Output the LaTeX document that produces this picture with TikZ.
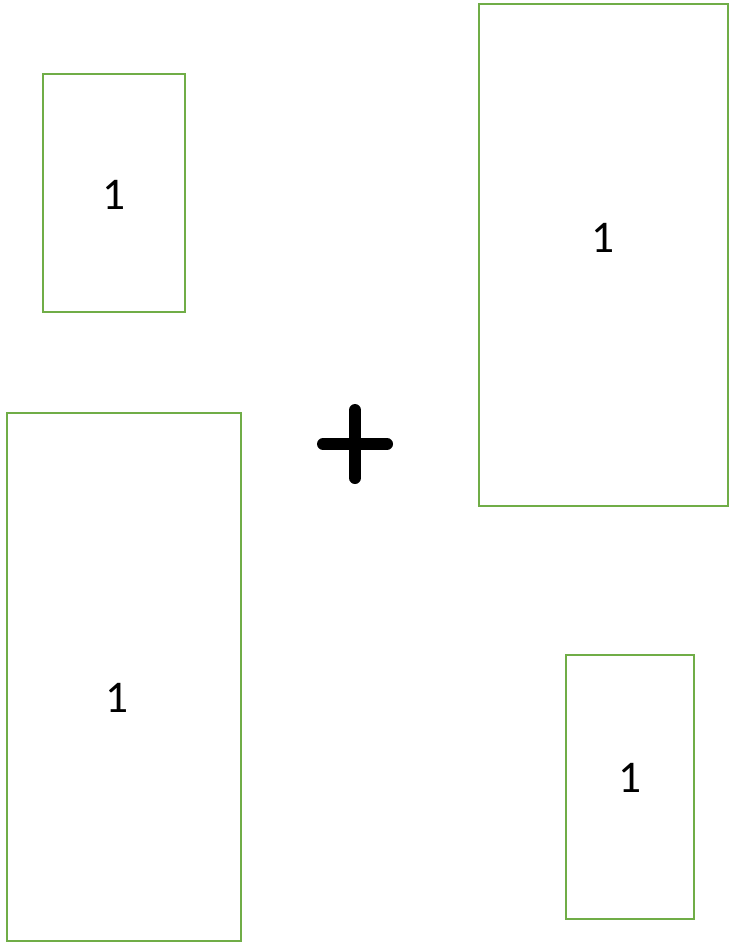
\documentclass[tikz,border=0pt]{standalone}
\usepackage{fontspec}
\setmainfont{Carlito}
\usetikzlibrary{calc}
\definecolor{boxgreen}{HTML}{70AD47}

\begin{document}
\begin{tikzpicture}[
  x=0.75pt, y=-0.75pt,
  box/.style={draw=boxgreen, line width=1.8pt, inner sep=0pt, outer sep=0pt, anchor=north west},
  num/.style={font=\fontsize{34}{40}\selectfont, inner sep=0pt},
  plusbar/.style={line width=9pt, line cap=round}
]
\useasboundingbox (0,0) rectangle (729,943);

% the four boxes
\node[box, minimum width=106.5pt, minimum height=178.5pt] (b1) at (43,74) {};
\node[box, minimum width=186.75pt, minimum height=376.5pt] (b2) at (479,4) {};
\node[box, minimum width=175.5pt, minimum height=396pt] (b3) at (7,413) {};
\node[box, minimum width=96pt, minimum height=198pt] (b4) at (566,655) {};

\node[num] (n1) at (114,195) {1};
\node[num] (n2) at (603,238) {1};
\node[num] (n3) at (117,698) {1};
\node[num] (n4) at (630,778) {1};

% plus sign
\coordinate (pc) at (355,444);
\draw[plusbar] ($(pc)+(-32,0)$) -- ($(pc)+(32,0)$);
\draw[plusbar] ($(pc)+(0,-34)$) -- ($(pc)+(0,34)$);
\end{tikzpicture}
\end{document}
